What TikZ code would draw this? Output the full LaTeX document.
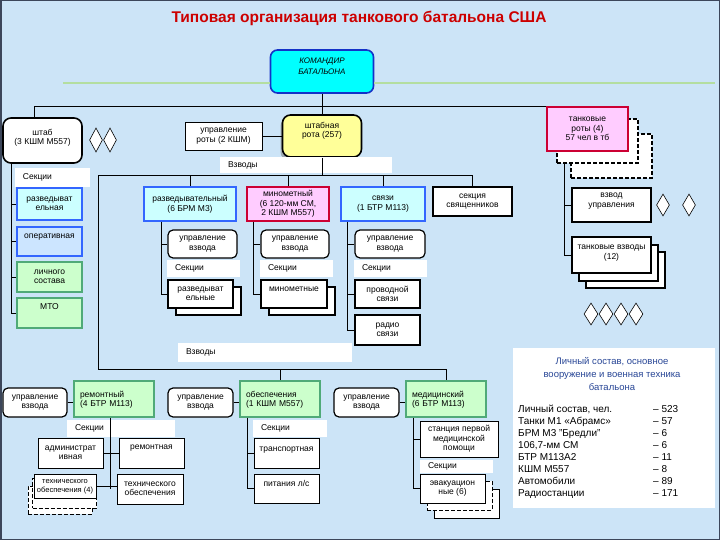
\documentclass[tikz,border=0pt]{standalone}
\usepackage{fontspec}
\setmainfont{Liberation Sans}
\usetikzlibrary{shapes.geometric,shadows}
\definecolor{bgblue}{RGB}{204,228,247}
\definecolor{framegray}{RGB}{60,70,90}
\definecolor{cmdcyan}{RGB}{0,255,255}
\definecolor{cmdblue}{RGB}{20,50,200}
\definecolor{hqyellow}{RGB}{255,255,153}
\definecolor{tkpink}{RGB}{255,204,255}
\definecolor{tkred}{RGB}{204,0,51}
\definecolor{ltcyan}{RGB}{204,255,255}
\definecolor{unitblue}{RGB}{51,102,255}
\definecolor{opblue}{RGB}{204,229,255}
\definecolor{ltgreen}{RGB}{204,255,204}
\definecolor{unitgreen}{RGB}{80,170,120}
\definecolor{decogreen}{RGB}{180,222,160}
\definecolor{titlered}{RGB}{204,0,0}
\definecolor{paneltitle}{RGB}{40,70,150}

\begin{document}
\begin{tikzpicture}[x=1pt, y=-1pt,
  every node/.style={font=\fontsize{8.5}{9.5}\selectfont, inner sep=1pt},
  box/.style={draw=black, fill=white, line width=.8pt, align=center},
  unit/.style={box, line width=1.6pt},
  ctl/.style={box, line width=1.2pt, rounded corners=5pt},
  bluebox/.style={unit, fill=ltcyan, draw=unitblue},
  greenbox/.style={unit, fill=ltgreen, draw=unitgreen},
  pinkbox/.style={unit, fill=tkpink, draw=tkred},
  ghost/.style={unit, dash pattern=on 4pt off 2pt},
  strip/.style 2 args={fill=white, inner xsep=8pt, inner ysep=0pt, align=left,
                       text width=#1, minimum height=#2},
  wh/.style 2 args={minimum width=#1, minimum height=#2},
  raised/.style={text depth=#1},
  gem/.style={diamond, draw=black, fill=white, line width=.6pt, inner sep=0pt,
              minimum width=13, minimum height=24},
  link/.style={line width=.8pt, black}
]
\useasboundingbox (0,0) rectangle (720,540);
\fill[bgblue] (0,0) rectangle (720,540);
\draw[framegray, line width=1.5pt] (.75,.75) rectangle (719.25,539.25);

\node[font=\fontsize{15.5}{18}\selectfont\bfseries, text=titlered] (title) at (359,18)
  {Типовая организация танкового батальона США};

\node[box, wh={103}{43}, fill=cmdcyan, draw=cmdblue, line width=1.6pt, rounded corners=7pt,
      font=\fontsize{8}{11}\selectfont\itshape, raised=11pt] (cmd) at (322,71.5) {КОМАНДИР\\БАТАЛЬОНА};
\draw[decogreen, line width=1.5pt] (63,83) -- (cmd.west |- 63,83);
\draw[decogreen, line width=1.5pt] (cmd.east |- 0,83) -- (715,83);

\node[unit, wh={79}{45}, rounded corners=8pt, raised=7pt] (staff) at (42.5,140.5) {штаб\\(3 КШМ М557)};
\foreach \i/\x in {1/96,2/110}
  \node[gem] (sd\i) at (\x,140) {};
\node[box, wh={77}{28}] (hqctl) at (223.5,136) {управление\\роты (2 КШМ)};
\node[unit, wh={79}{42}, rounded corners=8pt, fill=hqyellow, raised=12pt,
      drop shadow={shadow xshift=-2pt, shadow yshift=-3pt, fill=black!55}] (hq) at (322,136) {штабная\\рота (257)};
\draw[link] (cmd) -- (hq);
\draw[link] (hqctl) -- (hq);

\node[ghost, wh={81}{44}] (tco3) at (611.5,156) {};
\node[ghost, wh={81}{44}] (tco2) at (597.5,141) {};
\node[pinkbox, wh={81}{44}] (tco) at (587.5,129) {танковые\\роты (4)\\57 чел в тб};
\draw[link] ([xshift=-8]staff.north) |- (tco.north west);

\node[unit, wh={79}{34}, raised=10pt] (tctl) at (611.5,205) {взвод\\управления};
\foreach \i/\x in {1/663,2/689}
  \node[gem, minimum height=22] (td\i) at (\x,205) {};
\node[unit, wh={79}{36}] (tplt3) at (625.5,270) {};
\node[unit, wh={79}{36}] (tplt2) at (618.5,263) {};
\node[unit, wh={79}{36}, raised=6pt] (tplt) at (611.5,255) {танковые взводы\\(12)};
\foreach \i/\x in {1/591,2/606,3/621,4/636}
  \node[gem, minimum width=14, minimum height=22] (pd\i) at (\x,314) {};
\draw[link] ([xshift=8]tco2.south west) |- (tctl.west);
\draw[link] ([xshift=8]tco2.south west) |- (tplt.west);

\node[strip={156}{16}] (plt1) at (306,165) {Взводы};
\coordinate (b1w) at (98,175);
\coordinate (b2w) at (98,369);

\node[bluebox, wh={92}{34}] (recon) at (190,204) {разведывательный\\(6 БРМ М3)};
\node[pinkbox, wh={82}{34}] (mort) at (288,204) {минометный\\(6 120-мм СМ,\\2 КШМ М557)};
\node[bluebox, wh={84}{34}] (sig) at (383,204) {связи\\(1 БТР М113)};
\node[unit, wh={79}{29}] (chap) at (472.5,201.5) {секция\\священников};

\node[ctl, wh={69}{28}] (rcctl) at (202.5,244) {управление\\взвода};
\node[strip={57}{17}] (rcsecl) at (203.5,268.5) {Секции};
\node[unit, wh={65}{28}] (rcsecb) at (208.5,301) {};
\node[unit, wh={65}{28}] (rcsec) at (200.5,294) {разведыват\\ельные};
\draw[link] ([xshift=18]recon.south west) |- (rcctl.west);
\draw[link] ([xshift=18]recon.south west) |- (rcsec.west);

\node[ctl, wh={68}{28}] (mtctl) at (295,244) {управление\\взвода};
\node[strip={57}{17}] (mtsecl) at (296.5,268.5) {Секции};
\node[unit, wh={66}{28}] (mtsecb) at (302,301) {};
\node[unit, wh={66}{28}, raised=10pt] (mtsec) at (294,294) {минометные};
\draw[link] ([xshift=7]mort.south west) |- (mtctl.west);
\draw[link] ([xshift=7]mort.south west) |- (mtsec.west);

\node[ctl, wh={70}{28}] (sgctl) at (390,244) {управление\\взвода};
\node[strip={57}{17}] (sgsecl) at (390.5,268.5) {Секции};
\node[unit, wh={65}{28}] (wire) at (387.5,294) {проводной\\связи};
\node[unit, wh={65}{30}] (radio) at (387.5,330) {радио\\связи};
\draw[link] ([xshift=7]sig.south west) |- (sgctl.west);
\draw[link] ([xshift=7]sig.south west) |- (wire.west);
\draw[link] ([xshift=7]sig.south west) |- (radio.west);

\node[strip={59}{19}] (hqsecl) at (52.5,177.5) {Секции};
\node[bluebox, wh={65}{32}] (rint) at (49.5,204) {разведыват\\ельная};
\node[unit, fill=opblue, draw=unitblue, wh={65}{29}, raised=11pt] (oper) at (49.5,241.5) {оперативная};
\node[greenbox, wh={65}{30}] (pers) at (49.5,277) {личного\\состава};
\node[greenbox, wh={65}{30}, raised=12pt] (mto) at (49.5,313) {МТО};
\foreach \n in {rint,oper,pers,mto}
  \draw[link] ([xshift=9]staff.south west) |- (\n.west);

\node[strip={158}{19}] (plt2) at (265,352.5) {Взводы};
\node[ctl, wh={64}{29}] (rpctl) at (35,402.5) {управление\\взвода};
\node[greenbox, wh={80}{36}, align=left, text width=68, raised=10pt] (rep) at (114,399) {ремонтный\\(4 БТР М113)};
\node[ctl, wh={65}{29}] (spctl) at (200.5,402.5) {управление\\взвода};
\node[greenbox, wh={80}{36}, align=left, text width=68, raised=10pt] (supp) at (280,399) {обеспечения\\(1 КШМ М557)};
\node[ctl, wh={65}{29}] (mdctl) at (366.5,402.5) {управление\\взвода};
\node[greenbox, wh={80}{36}, align=left, text width=68, raised=10pt] (med) at (446,399) {медицинский\\(6 БТР М113)};
\foreach \a/\b in {rpctl/rep,spctl/supp,mdctl/med}
  \draw[link] (\a.east) -- (\a.east -| \b.west);

\draw[link] (chap.north) |- (b1w) -- (b2w) -| (med.north);
\draw[link] (hq.south) -- (hq.south |- b1w);
\foreach \n in {recon,mort,sig}
  \draw[link] (\n.north) -- (\n.north |- b1w);
\draw[link] (supp.north) -- (supp.north |- b2w);

\node[strip={92}{17}] (rpsecl) at (121,428.5) {Секции};
\node[box, wh={65}{30}] (adm) at (70.5,453) {администрат\\ивная};
\node[box, wh={65}{30}, raised=12pt] (rpsec) at (151.5,453) {ремонтная};
\node[ghost, line width=.8pt, wh={64}{28}] (tob2) at (60,500) {};
\node[ghost, line width=.8pt, wh={64}{30}] (tob1) at (64.5,493) {};
\node[box, wh={62}{24}, font=\fontsize{7.5}{9}\selectfont] (tob) at (65,486.5) {технического\\обеспечения (4)};
\node[box, wh={66}{30}] (tech) at (150,489) {технического\\обеспечения};
\draw[link] ([xshift=37]rep.south west) -- ([xshift=37]rep.south west |- tech.west);
\draw[link] (adm.east) -- (rpsec.west);
\draw[link] (tob.east) -- (tob.east -| tech.west);

\node[strip={58}{17}] (spsecl) at (290,428.5) {Секции};
\node[box, wh={65}{30}, raised=8pt] (trans) at (286.5,453) {транспортная};
\node[box, wh={65}{29}, raised=11pt] (food) at (286.5,488.5) {питания л/с};
\draw[link] ([xshift=8]supp.south west) |- (trans.west);
\draw[link] ([xshift=8]supp.south west) |- (food.west);

\node[box, wh={78}{36}] (fap) at (459,439) {станция первой\\медицинской\\помощи};
\node[strip={57}{13}] (mdsecl) at (456.5,466) {Секции};
\node[box, wh={65}{29}] (evb2) at (466.5,503.5) {};
\node[ghost, line width=.8pt, wh={65}{29}] (evb1) at (459.5,495.5) {};
\node[box, wh={65}{29}] (evac) at (452.5,488.5) {эвакуацион\\ные (6)};
\draw[link] ([xshift=8]med.south west) |- (fap.west);
\draw[link] ([xshift=8]med.south west) |- (evac.west);

\node[fill=white, wh={202}{160}] (panel) at (614,428) {};
\node[text=paneltitle, font=\fontsize{9.5}{13}\selectfont, align=center] (ptitle) at (612,374)
  {Личный состав, основное\\вооружение и военная техника\\батальона};
\node[anchor=north west, inner sep=0pt, font=\fontsize{10}{12}\selectfont] (plist) at (518,403.5)
  {\begin{tabular}{@{}p{135pt}@{}l@{}}
   Личный состав, чел. & – 523\\
   Танки М1 «Абрамс» & – 57\\
   БРМ М3 "Бредли" & – 6\\
   106,7-мм СМ & – 6\\
   БТР М113А2 & – 11\\
   КШМ М557 & – 8\\
   Автомобили & – 89\\
   Радиостанции & – 171
   \end{tabular}};
\end{tikzpicture}
\end{document}
